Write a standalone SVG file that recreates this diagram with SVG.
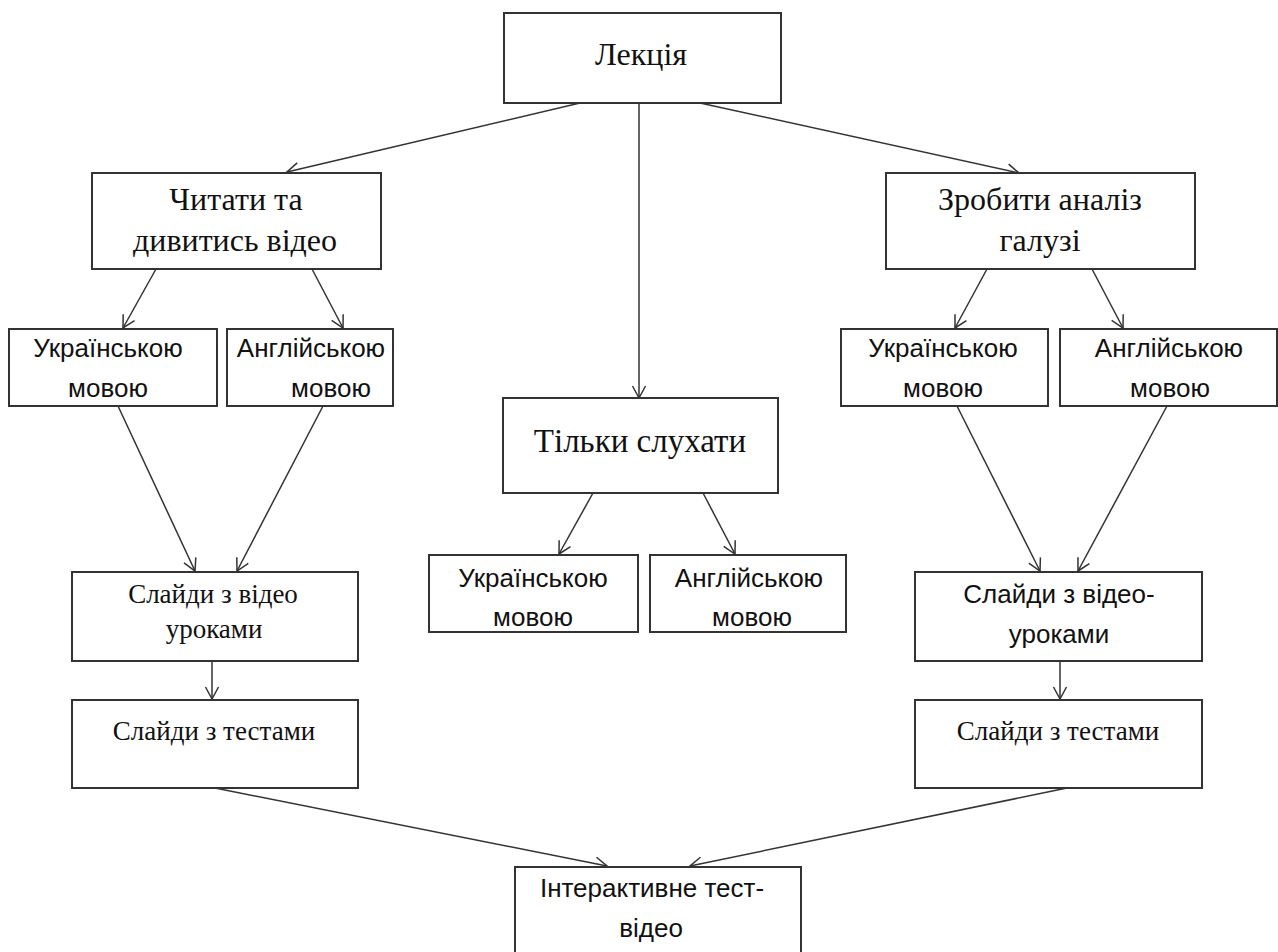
<svg xmlns="http://www.w3.org/2000/svg" width="1278" height="952" viewBox="0 0 1278 952">
  <defs>
    <marker id="arrow" markerUnits="userSpaceOnUse" markerWidth="16" markerHeight="16" viewBox="0 0 16 16" refX="14" refY="8" orient="auto">
      <path d="M2,1.5 L14,8 L2,14.5" fill="none" stroke="#333" stroke-width="1.5"/>
    </marker>
    <style>
      .box { fill: #fff; stroke: #333; stroke-width: 2; }
      .edge { fill: none; stroke: #333; stroke-width: 1.5; marker-end: url(#arrow); }
      .serif { font-family: "Liberation Serif", "Times New Roman", serif; fill: #111; text-anchor: middle; }
      .sans { font-family: "Liberation Sans", Arial, sans-serif; fill: #111; text-anchor: middle; font-size: 26px; }
    </style>
  </defs>

  <rect width="1278" height="952" fill="#fff"/>

  <!-- connectors -->
  <g id="connectors">
    <line class="edge" x1="580" y1="103" x2="287" y2="172"/>
    <line class="edge" x1="639" y1="103" x2="639" y2="398"/>
    <line class="edge" x1="700" y1="103" x2="1019" y2="173"/>
    <line class="edge" x1="156" y1="269" x2="123" y2="328"/>
    <line class="edge" x1="312" y1="269" x2="343" y2="328"/>
    <line class="edge" x1="118" y1="406" x2="195" y2="571"/>
    <line class="edge" x1="323" y1="406" x2="237" y2="571"/>
    <line class="edge" x1="212" y1="661" x2="212" y2="699"/>
    <line class="edge" x1="215" y1="788" x2="607" y2="866"/>
    <line class="edge" x1="593" y1="493" x2="559" y2="554"/>
    <line class="edge" x1="703" y1="493" x2="735" y2="554"/>
    <line class="edge" x1="987" y1="269" x2="955" y2="328"/>
    <line class="edge" x1="1092" y1="269" x2="1123" y2="328"/>
    <line class="edge" x1="957" y1="406" x2="1040" y2="571"/>
    <line class="edge" x1="1167" y1="406" x2="1078" y2="571"/>
    <line class="edge" x1="1060" y1="661" x2="1060" y2="699"/>
    <line class="edge" x1="1067" y1="788" x2="690" y2="866"/>
  </g>

  <!-- top -->
  <g id="lecture">
    <rect class="box" x="504" y="13" width="277" height="90"/>
    <text class="serif" x="641" y="65" font-size="32">Лекція</text>
  </g>

  <!-- left branch -->
  <g id="read-watch">
    <rect class="box" x="92" y="173" width="289" height="96"/>
    <text class="serif" x="236" y="210" font-size="32">Читати та</text>
    <text class="serif" x="235" y="251" font-size="32">дивитись відео</text>
  </g>
  <g id="left-ukr">
    <rect class="box" x="9" y="329" width="208" height="77"/>
    <text class="sans" x="108" y="357">Українською</text>
    <text class="sans" x="108" y="397">мовою</text>
  </g>
  <g id="left-eng">
    <rect class="box" x="227" y="329" width="166" height="77"/>
    <text class="sans" x="311" y="357">Англійською</text>
    <text class="sans" x="331" y="397">мовою</text>
  </g>
  <g id="left-slides-video">
    <rect class="box" x="72" y="572" width="286" height="89"/>
    <text class="serif" x="213" y="603" font-size="27">Слайди з відео</text>
    <text class="serif" x="214" y="638" font-size="27">уроками</text>
  </g>
  <g id="left-slides-tests">
    <rect class="box" x="72" y="700" width="286" height="88"/>
    <text class="serif" x="214" y="740" font-size="27">Слайди з тестами</text>
  </g>

  <!-- middle branch -->
  <g id="listen">
    <rect class="box" x="503" y="398" width="275" height="95"/>
    <text class="serif" x="640" y="452" font-size="33">Тільки слухати</text>
  </g>
  <g id="mid-ukr">
    <rect class="box" x="429" y="555" width="209" height="77"/>
    <text class="sans" x="533" y="587">Українською</text>
    <text class="sans" x="533" y="626">мовою</text>
  </g>
  <g id="mid-eng">
    <rect class="box" x="650" y="555" width="196" height="77"/>
    <text class="sans" x="749" y="587">Англійською</text>
    <text class="sans" x="752" y="626">мовою</text>
  </g>

  <!-- right branch -->
  <g id="analysis">
    <rect class="box" x="886" y="173" width="309" height="96"/>
    <text class="serif" x="1040" y="210" font-size="32">Зробити аналіз</text>
    <text class="serif" x="1040" y="251" font-size="32">галузі</text>
  </g>
  <g id="right-ukr">
    <rect class="box" x="841" y="329" width="207" height="77"/>
    <text class="sans" x="943" y="357">Українською</text>
    <text class="sans" x="943" y="397">мовою</text>
  </g>
  <g id="right-eng">
    <rect class="box" x="1060" y="329" width="217" height="77"/>
    <text class="sans" x="1169" y="357">Англійською</text>
    <text class="sans" x="1170" y="397">мовою</text>
  </g>
  <g id="right-slides-video">
    <rect class="box" x="915" y="572" width="287" height="89"/>
    <text class="sans" x="1059" y="603">Слайди з відео-</text>
    <text class="sans" x="1059" y="643">уроками</text>
  </g>
  <g id="right-slides-tests">
    <rect class="box" x="915" y="700" width="287" height="88"/>
    <text class="serif" x="1058" y="740" font-size="27">Слайди з тестами</text>
  </g>

  <!-- bottom -->
  <g id="interactive">
    <rect class="box" x="515" y="867" width="286" height="95"/>
    <text class="sans" x="652" y="897">Інтерактивне тест-</text>
    <text class="sans" x="651" y="937">відео</text>
  </g>
</svg>
